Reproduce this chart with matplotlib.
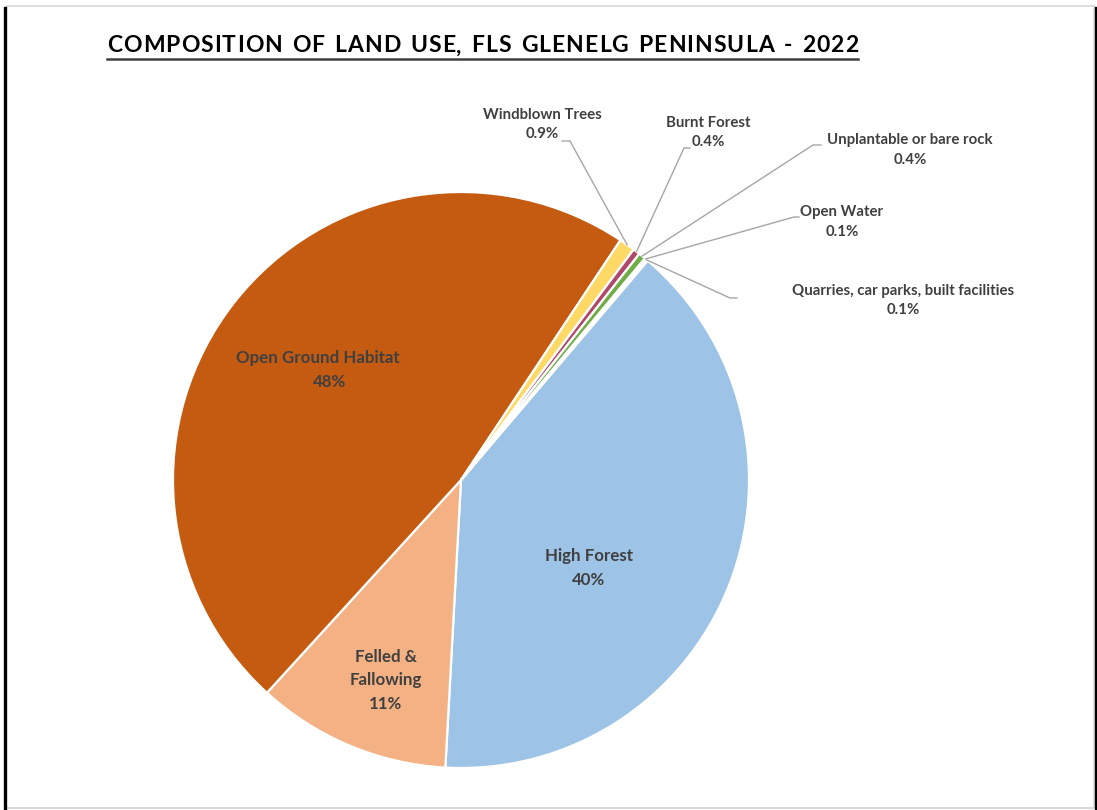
import matplotlib
matplotlib.use("Agg")
import matplotlib.pyplot as plt
from matplotlib.lines import Line2D
import numpy as np

# ---------------- data ----------------
categories = ["High Forest", "Felled &\nFallowing", "Open Ground Habitat", "Windblown Trees",
              "Burnt Forest", "Unplantable or bare rock", "Open Water",
              "Quarries, car parks, built facilities"]
values = [40, 11, 48, 0.9, 0.4, 0.4, 0.1, 0.1]
pct_labels = ["40%", "11%", "48%", "0.9%", "0.4%", "0.4%", "0.1%", "0.1%"]
colors = ["#9DC3E6", "#F4B183", "#C55A11", "#FFD966", "#B0486A", "#70AD47", "#5B9BD5", "#A5A5A5"]
title = "COMPOSITION OF LAND USE, FLS GLENELG PENINSULA - 2022"

# ---------------- layout ----------------
W, H = 1097, 810
fig = plt.figure(figsize=(W / 100, H / 100), dpi=100)
fig.patch.set_facecolor("white")


def fx(x):
    return x / W


def fy(y):
    return 1 - y / H


FONT = ["Lato", "DejaVu Sans"]
TXT = "#404040"

cx, cy, R = 461, 480, 288
ax = fig.add_axes([fx(cx - R), fy(cy + R), 2 * R / W, 2 * R / H])
wedges, _ = ax.pie(values, colors=colors, startangle=49.6, counterclock=False, radius=1,
                   wedgeprops=dict(edgecolor="white", linewidth=1.6))
ax.set_xlim(-1, 1)
ax.set_ylim(-1, 1)
ax.axis("off")


def put_lines(lines, xs, y0, step, size):
    for k, (s, x) in enumerate(zip(lines, xs)):
        fig.text(fx(x), fy(y0 + k * step), s, ha="center", va="center", fontsize=size,
                 fontweight="bold", color=TXT, family=FONT)


# inner labels (pixel positions of first line, line step)
inner_pos = {0: ((589, 589), 556, 24), 1: ((386, 386, 386), 657, 23.5), 2: ((318, 330), 358, 24)}
for i, (xs, y0, step) in inner_pos.items():
    lines = categories[i].split("\n") + [pct_labels[i]]
    if len(xs) < len(lines):
        xs = tuple(xs) + (xs[-1],) * (len(lines) - len(xs))
    put_lines(lines, xs, y0, step, 12.2)

# outer labels with leader lines
outer = {
    3: dict(text=(542, 115), elbow=(570, 141), end=(562, 141)),
    4: dict(text=(708, 123), elbow=(684, 148), end=(690, 148)),
    5: dict(text=(910, 140), elbow=(813, 145), end=(821, 145)),
    6: dict(text=(842, 212), elbow=(794, 217), end=(799, 217)),
    7: dict(text=(903, 291), elbow=(730, 298), end=(737, 298)),
}
for i, d in outer.items():
    w = wedges[i]
    mid = np.deg2rad((w.theta1 + w.theta2) / 2)
    sx = cx + R * np.cos(mid)
    sy = cy - R * np.sin(mid)
    xs = [sx, d["elbow"][0], d["end"][0]]
    ys = [sy, d["elbow"][1], d["end"][1]]
    fig.add_artist(Line2D([fx(v) for v in xs], [fy(v) for v in ys], transform=fig.transFigure,
                          color="#A6A6A6", lw=1.0))
    tx, ty0 = d["text"]
    put_lines([categories[i], pct_labels[i]], (tx, tx), ty0, 19.5, 10.8)

# title with letter spacing, spanning x 107..858
x0, x1, ty = 107, 858, 46
fig.canvas.draw()
renderer = fig.canvas.get_renderer()
widths = []
for ch in title:
    t = fig.text(0, 0, ch if ch != " " else "n", fontsize=16.5, fontweight="bold", family=FONT)
    bb = t.get_window_extent(renderer)
    widths.append(bb.width * (0.6 if ch == " " else 1.0))
    t.remove()
total = sum(widths)
gap = (x1 - x0 - total) / (len(title) - 1)
xpos = x0
for ch, wch in zip(title, widths):
    if ch != " ":
        fig.text(fx(xpos), fy(ty), ch, fontsize=16.5, fontweight="bold", family=FONT,
                 color="black", ha="left", va="center")
    xpos += wch + gap
fig.add_artist(Line2D([fx(x0), fx(x1)], [fy(58.5), fy(58.5)], transform=fig.transFigure,
                      color="#404040", lw=1.8))

# frame borders
fig.add_artist(Line2D([fx(6), fx(1094)], [fy(5.5), fy(5.5)], transform=fig.transFigure, color="#D9D9D9", lw=1.2))
fig.add_artist(Line2D([fx(6), fx(1094)], [fy(807.5), fy(807.5)], transform=fig.transFigure, color="#D9D9D9", lw=1.5))
fig.add_artist(Line2D([fx(1094), fx(1094)], [fy(6), fy(808)], transform=fig.transFigure, color="#D9D9D9", lw=1.2))
fig.add_artist(Line2D([fx(5), fx(5)], [fy(8), fy(808)], transform=fig.transFigure, color="black", lw=2.4))
fig.add_artist(Line2D([fx(1096), fx(1096)], [fy(8), fy(808)], transform=fig.transFigure, color="black", lw=2.4))

fig.savefig("out.png", dpi=100, facecolor="white")
